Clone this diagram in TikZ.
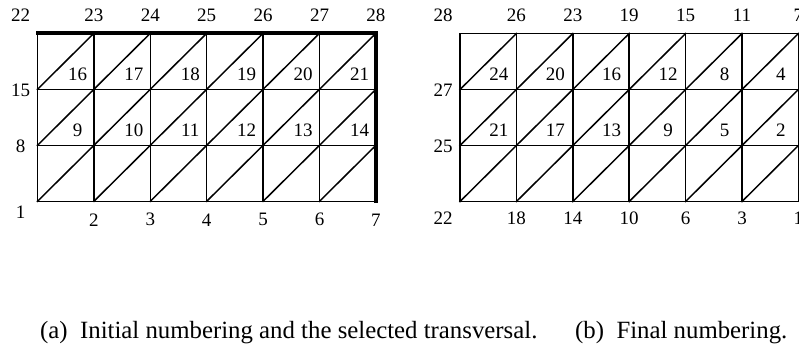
\documentclass[tikz,border=0pt]{standalone}
\usepackage{fontspec}
\setmainfont{Liberation Serif}
\usepackage{tikz}
\usetikzlibrary{positioning}
\tikzset{
  mesh/.style={line width=1.5pt, line cap=rect},
  transv/.style={line width=4pt, line cap=rect},
  vnum/.style={font=\fontsize{19}{22}\selectfont, inner sep=0pt},
  tnum/.style={font=\fontsize{19}{22}\selectfont, inner sep=0pt},
  capt/.style={font=\fontsize{24.8}{28}\selectfont, inner sep=0pt, anchor=base west},
}
\begin{document}
\begin{tikzpicture}[x=1pt,y=-1pt]
\useasboundingbox (0,0) rectangle (799,349);

% (a) initial numbering
\begin{scope}[shift={(37.5,201.3)}, x=56.4pt, y=56pt]
\foreach \i in {0,...,6} \draw[mesh] (\i,0) -- (\i,3);
\foreach \j in {0,...,3} \draw[mesh] (0,\j) -- (6,\j);
\foreach \i in {0,...,5} \foreach \j in {0,1,2} \draw[mesh] (\i,\j) -- ++(1,1);
\draw[transv] (0,3) -- (6,3) -- (6,0);
\node[vnum] (a-v1) at (-0.3,-0.19) {1};
\node[vnum] (a-v8) at (-0.3,0.99) {8};
\node[vnum] (a-v15) at (-0.3,1.99) {15};
\node[vnum] (a-v22) at (-0.3,3.33) {22};
\foreach \i/\n in {1/2,2/3,3/4,4/5,5/6,6/7} \node[vnum] (a-v\n) at (\i,-0.33) {\n};
\foreach \i/\n in {1/23,2/24,3/25,4/26,5/27,6/28} \node[vnum] (a-v\n) at (\i,3.33) {\n};
\foreach \i/\n/\m in {0/16/9,1/17/10,2/18/11,3/19/12,4/20/13,5/21/14} {
  \node[tnum] (a-t\n) at (\i+0.71,2.27) {\n};
  \node[tnum] (a-t\m) at (\i+0.71,1.27) {\m};
}
\end{scope}

% (b) final numbering
\begin{scope}[shift={(460,201.5)}, x=56.4pt, y=56pt]
\foreach \i in {0,...,6} \draw[mesh] (\i,0) -- (\i,3);
\foreach \j in {0,...,3} \draw[mesh] (0,\j) -- (6,\j);
\foreach \i in {0,...,5} \foreach \j in {0,1,2} \draw[mesh] (\i,\j) -- ++(1,1);
\node[vnum] (b-v22) at (-0.3,-0.29) {22};
\node[vnum] (b-v25) at (-0.3,0.98) {25};
\node[vnum] (b-v27) at (-0.3,1.99) {27};
\node[vnum] (b-v28) at (-0.3,3.33) {28};
\foreach \i/\n in {1/18,2/14,3/10,4/6,5/3,6/1} \node[vnum] (b-v\n) at (\i,-0.3) {\n};
\foreach \i/\n in {1/26,2/23,3/19,4/15,5/11,6/7} \node[vnum] (b-v\n) at (\i,3.33) {\n};
\foreach \i/\n/\m in {0/24/21,1/20/17,2/16/13,3/12/9,4/8/5,5/4/2} {
  \node[tnum] (b-t\n) at (\i+0.69,2.27) {\n};
  \node[tnum] (b-t\m) at (\i+0.69,1.27) {\m};
}
\end{scope}

\node[capt] (capa) at (40,338.5) {(a)\hspace{0.5em}Initial numbering and the selected transversal.};
\node[capt] (capb) at (575,338.5) {(b)\hspace{0.5em}Final numbering.};
\end{tikzpicture}
\end{document}
